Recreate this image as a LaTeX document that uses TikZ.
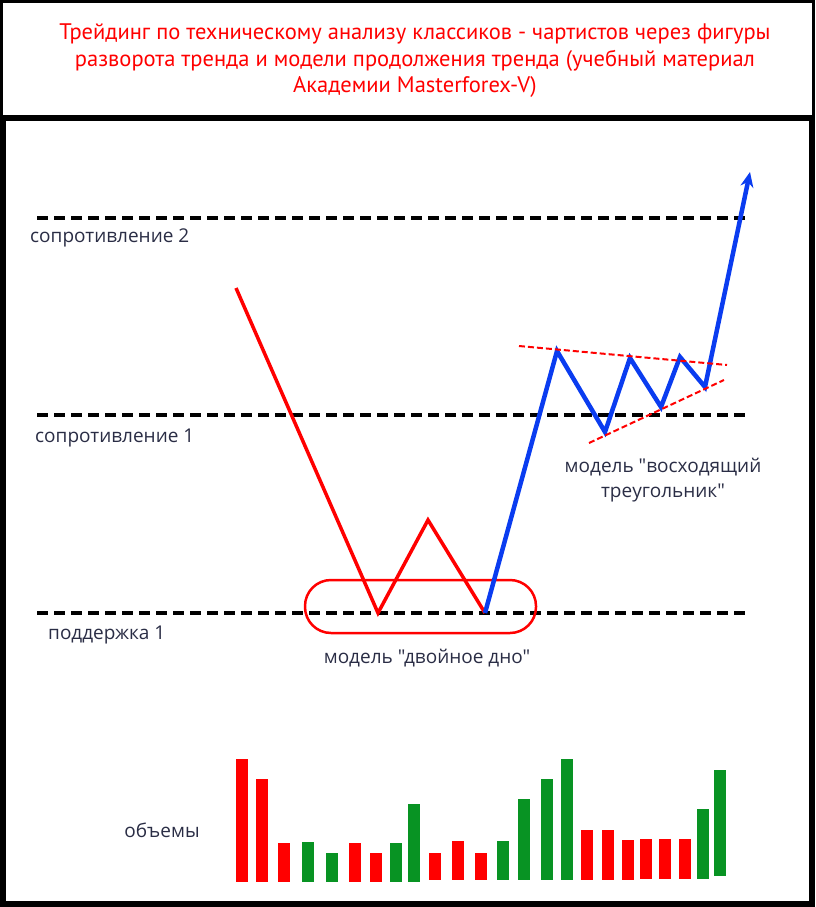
\documentclass[tikz,border=0pt]{standalone}
\usepackage{fontspec}
\setmainfont{Open Sans}[Ligatures=TeXOff]
\newfontfamily\titlefont{PT Sans}
\usetikzlibrary{arrows.meta}
\definecolor{chartred}{RGB}{255,0,0}
\definecolor{chartblue}{RGB}{10,60,240}
\definecolor{volgreen}{RGB}{8,147,35}
\definecolor{labelink}{RGB}{42,45,69}
\tikzset{
  level/.style={line width=3.5pt,dash pattern=on 11pt off 6pt,black},
  levellabel/.style={anchor=west,text=labelink,font=\fontsize{19}{22}\selectfont,inner sep=0pt},
  trendline/.style={line width=2pt,dash pattern=on 6pt off 3pt,chartred},
  fall/.style={line width=3.5pt,chartred,line join=miter},
  rise/.style={line width=4.5pt,chartblue,line join=miter}
}
\begin{document}
\begin{tikzpicture}[x=1pt,y=-1pt]
    \useasboundingbox (0,0) rectangle (815,907);
    % frames
    \draw[line width=3pt] (1.5,1.5) rectangle (813.5,117);
    \draw[line width=6pt] (3,118) rectangle (812,904);
    \node[align=center,text=chartred,font=\titlefont\fontsize{22.5}{26.5}\selectfont] (title) at (415,61)
      {Трейдинг по техническому анализу классиков - чартистов через фигуры\\
       разворота тренда и модели продолжения тренда (учебный материал\\
       Академии Masterforex-V)};
    % levels
    \draw[level] (37,218) -- (745,218);
    \draw[level] (37,415) -- (745,415);
    \draw[level] (37,613) -- (750,613);
    \node[levellabel] (res2) at (30,238) {сопротивление 2};
    \node[levellabel] (res1) at (35,438) {сопротивление 1};
    \node[levellabel] (sup1) at (48,635) {поддержка 1};
    % double bottom
    \coordinate (start) at (236,288);
    \coordinate (bottomA) at (378,613);
    \coordinate (midpeak) at (428,520);
    \coordinate (bottomB) at (485,613);
    \draw[fall] (start) -- (bottomA) -- (midpeak) -- (bottomB);
    \draw[chartred,line width=2.5pt,rounded corners=26pt] (305,580) rectangle (536,633);
    \node[text=labelink,font=\fontsize{19}{22}\selectfont] (dbl) at (427,658) {модель "двойное дно"};
    % ascending triangle
    \coordinate (peakA) at (557,351);
    \coordinate (lowA) at (605,432);
    \coordinate (peakB) at (630,358);
    \coordinate (lowB) at (661,407);
    \coordinate (peakC) at (680,357);
    \coordinate (lowC) at (705,387);
    \coordinate (target) at (750,172);
    \draw[rise,-{Stealth[length=15pt,width=13pt]}] (bottomB) -- (peakA) -- (lowA) -- (peakB) -- (lowB) -- (peakC) -- (lowC) -- (target);
    \coordinate (topL) at (519,346);
    \coordinate (topR) at (727,365);
    \coordinate (botL) at (589,443);
    \coordinate (botR) at (724,380);
    \draw[trendline] (topL) -- (topR);
    \draw[trendline] (botL) -- (botR);
    \node[align=center,text=labelink,font=\fontsize{19}{25}\selectfont] (tri) at (663,480) {модель "восходящий\\треугольник"};
    % volumes
    \node[text=labelink,font=\fontsize{19}{22}\selectfont] (vol) at (162,830) {объемы};
    \foreach \x/\top/\bot/\col in {
        236/759/882/chartred, 256/779/882/chartred, 278/843/882/chartred,
        302/842/882/volgreen, 326/853/882/volgreen, 349/843/882/chartred,
        370/853/882/chartred, 390/843/882/volgreen, 408/804/882/volgreen,
        429/853/880/chartred, 452/841/880/chartred, 475/853/880/chartred,
        497/841/880/volgreen, 518/799/880/volgreen, 541/779/880/volgreen,
        561/759/880/volgreen, 581/830/880/chartred, 602/830/880/chartred,
        622/840/880/chartred, 640/839/879/chartred, 659/839/879/chartred,
        679/839/879/chartred, 697/809/879/volgreen, 714/770/876/volgreen}
      \fill[\col] (\x,\top) rectangle ++(12,\bot-\top);
\end{tikzpicture}
\end{document}
